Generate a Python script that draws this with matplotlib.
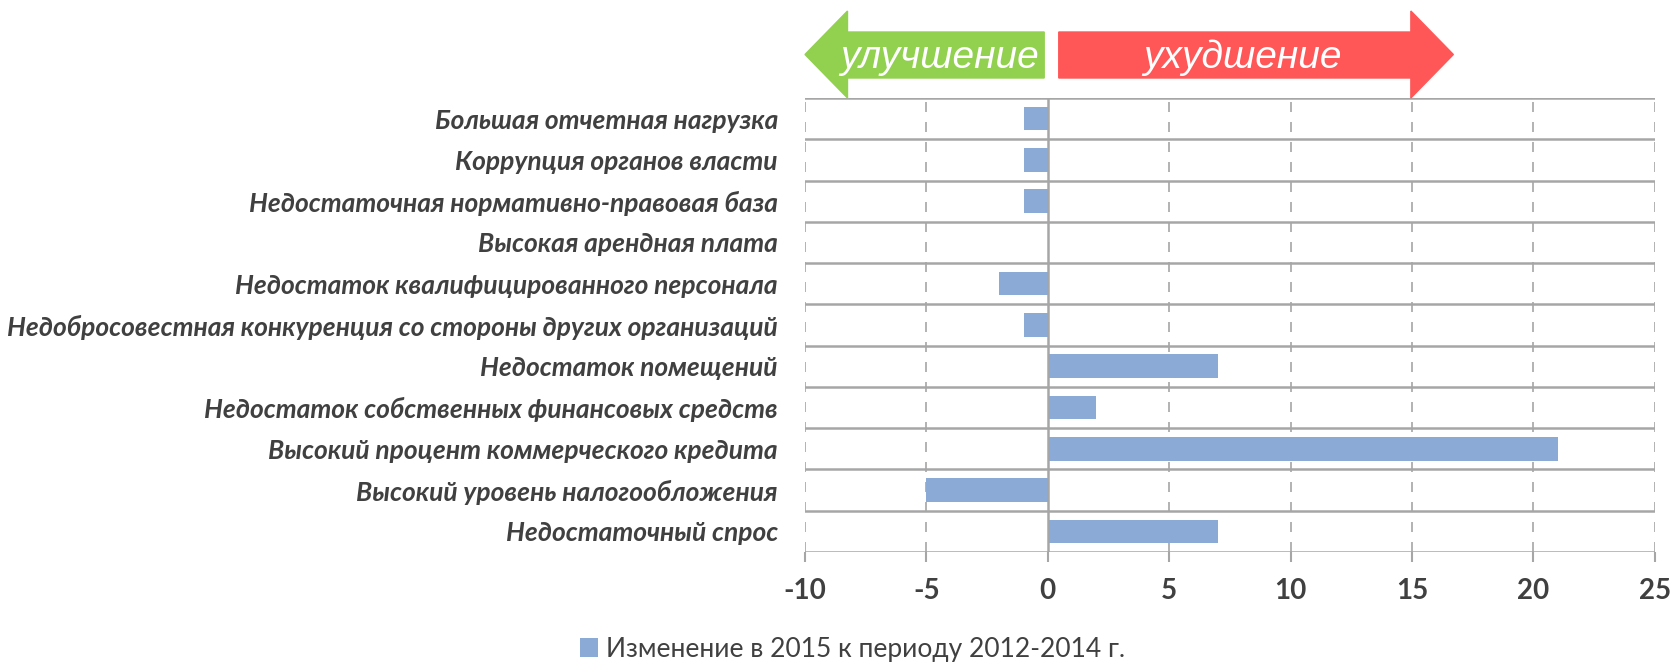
import numpy as np
import matplotlib.pyplot as plt
from matplotlib.patches import Polygon
from matplotlib.transforms import blended_transform_factory

plt.rcParams['font.family'] = ['Lato', 'DejaVu Sans']

categories = [
    "Большая отчетная нагрузка",
    "Коррупция органов власти",
    "Недостаточная нормативно-правовая база",
    "Высокая арендная плата",
    "Недостаток квалифицированного персонала",
    "Недобросовестная конкуренция со стороны других организаций",
    "Недостаток помещений",
    "Недостаток собственных финансовых средств",
    "Высокий процент коммерческого кредита",
    "Высокий уровень налогообложения",
    "Недостаточный спрос",
]
values = [-1, -1, -1, 0, -2, -1, 7, 2, 21, -5, 7]
xticks = [-10, -5, 0, 5, 10, 15, 20, 25]
series_name = "Изменение в 2015 к периоду 2012-2014 г."

bar_color = "#8BAAD5"
grid_color = "#A6A6A6"
text_color = "#404040"

fig = plt.figure(figsize=(16.75, 6.62), dpi=100)
ax = fig.add_axes([0.4806, 0.1662, 0.5074, 0.6858])

y = np.arange(len(categories))
ax.barh(y, values, height=0.57, color=bar_color, zorder=3, label=series_name)

ax.set_xlim(-10, 25)
ax.set_ylim(len(categories) - 0.5, -0.5)
ax.set_xticks(xticks)
ax.set_xticklabels([str(v) for v in xticks], fontsize=20, fontweight='bold', color=text_color)
ax.set_yticks(y)
ax.set_yticklabels(categories, fontsize=19, fontweight='bold', fontstyle='italic', color=text_color)
ax.tick_params(axis='y', length=0, pad=19.5)
ax.tick_params(axis='x', length=7, width=1.5, color=grid_color, pad=12)

# vertical dashed grid
for v in xticks:
    if v != 0:
        ax.axvline(v, color=grid_color, lw=1.2, ls=(0, (6, 6)), zorder=1)
ax.axvline(0, color=grid_color, lw=1.8, zorder=4)
# row separators
for b in np.arange(-0.5, len(categories), 1.0):
    ax.axhline(b, color=grid_color, lw=1.8, zorder=2)

for s in ax.spines.values():
    s.set_visible(False)

# arrows above the plot
tr = blended_transform_factory(ax.transData, fig.transFigure)
ytop, ybot = 1 - 11 / 662, 1 - 98 / 662
bt, bb = 1 - 32 / 662, 1 - 78 / 662
green = Polygon([(-10, (ytop + ybot) / 2), (-8.25, ytop), (-8.25, bt), (-0.15, bt),
                 (-0.15, bb), (-8.25, bb), (-8.25, ybot)],
                closed=True, transform=tr, color="#92D050", clip_on=False)
red = Polygon([(0.45, bt), (14.95, bt), (14.95, ytop), (16.7, (ytop + ybot) / 2),
               (14.95, ybot), (14.95, bb), (0.45, bb)],
              closed=True, transform=tr, color="#FF5757", clip_on=False)
fig.add_artist(green)
fig.add_artist(red)
base = 1 - 68 / 662
fig.text(-4.45, base, "улучшение", transform=tr, color="white", fontsize=28,
         fontstyle='italic', family=['Liberation Sans'], ha='center', va='baseline')
fig.text(8.0, base, "ухудшение", transform=tr, color="white", fontsize=28,
         fontstyle='italic', family=['Liberation Sans'], ha='center', va='baseline')

leg = fig.legend(loc='center', bbox_to_anchor=(0.509, 1 - 649 / 662), frameon=False,
                 fontsize=19, handlelength=0.7, handleheight=0.7, handletextpad=0.3)
for t in leg.get_texts():
    t.set_color(text_color)

fig.savefig("out.png", dpi=100)
